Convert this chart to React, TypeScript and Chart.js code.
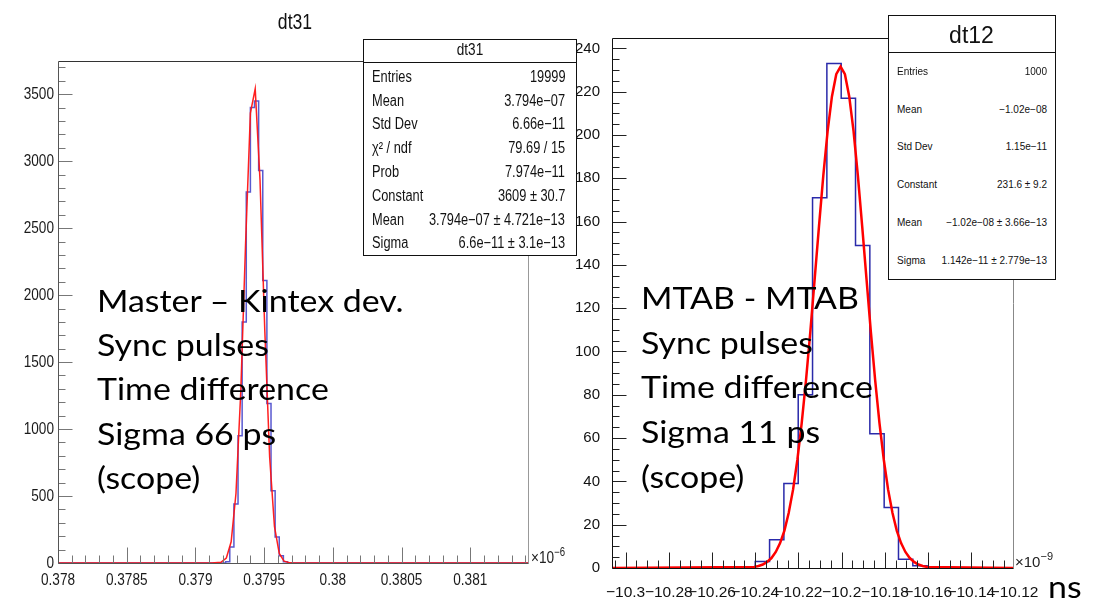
import React, { useEffect, useRef } from "react";
import { Chart, registerables } from "chart.js";

Chart.register(...registerables);

// ---------------- left panel: dt31 (x in units of 1e-6 s) ----------------
const dt31XRange = [0.378, 0.38142];
const dt31YMax = 3748;
const dt31BinStart = 0.37922;
const dt31BinWidth = 0.00003;
const dt31Counts = [10, 120, 440, 950, 1800, 2770, 3400, 3450, 2930, 2110, 1190, 540, 195, 55, 10];
const dt31FitX = [0.378, 0.37912, 0.379185, 0.379225, 0.37926, 0.379295, 0.37933, 0.379365, 0.3794, 0.379435, 0.37947, 0.379505, 0.37954, 0.379575, 0.37961, 0.379645, 0.37969, 0.37972, 0.38142];
const dt31FitY = [0, 0, 5, 37, 158, 519, 1281, 2388, 3359, 3540, 2860, 1731, 791, 273, 71, 14, 1, 0, 0];
const dt31XTicks = [0.378, 0.3785, 0.379, 0.3795, 0.38, 0.3805, 0.381];
const dt31XLabels = ["0.378", "0.3785", "0.379", "0.3795", "0.38", "0.3805", "0.381"];
const dt31YTicks = [0, 500, 1000, 1500, 2000, 2500, 3000, 3500];
const dt31YLabels = ["0", "500", "1000", "1500", "2000", "2500", "3000", "3500"];
const dt31StatNames = ["Entries", "Mean", "Std Dev", "χ² / ndf", "Prob", "Constant", "Mean", "Sigma"];
const dt31StatValues = ["19999", "3.794e−07", "6.66e−11", "79.69 / 15", "7.974e−11", "3609 ± 30.7", "3.794e−07 ± 4.721e−13", "6.6e−11 ± 3.1e−13"];
const dt31Note = ["Master – Kintex dev.", "Sync pulses", "Time difference", "Sigma 66 ps", "(scope)"];

// ---------------- right panel: dt12 (x in units of 1e-9 s) ----------------
const dt12XRange = [-10.3063, -10.1207];
const dt12YMax = 244.8;
const dt12BinStart = -10.24;
const dt12BinWidth = 0.00663;
const dt12Counts = [3, 13, 39, 80, 171, 233, 217, 149, 62, 28, 4, 1];
const dt12FitX = [-10.3063, -10.2405, -10.2385, -10.2365, -10.2345, -10.2325, -10.2305, -10.2285, -10.2265, -10.2245, -10.2225, -10.2205, -10.2185, -10.2165, -10.2145, -10.2125, -10.2105, -10.2085, -10.2065, -10.2045, -10.2025, -10.2005, -10.1985, -10.1965, -10.1945, -10.1925, -10.1905, -10.1885, -10.1865, -10.1845, -10.1825, -10.1805, -10.1785, -10.1765, -10.1745, -10.1725, -10.1705, -10.1685, -10.1665, -10.1645, -10.1625, -10.1605, -10.1207];
const dt12FitY = [0, 0.5, 0.9, 1.6, 2.8, 4.6, 7.4, 11.5, 17.3, 25.5, 36.2, 50.0, 66.9, 86.8, 109.2, 133.4, 157.8, 181.2, 201.8, 217.8, 228.1, 231.6, 228.1, 217.8, 201.8, 181.2, 157.8, 133.4, 109.2, 86.8, 66.9, 50.0, 36.2, 25.5, 17.3, 11.5, 7.4, 4.6, 2.8, 1.6, 0.9, 0.5, 0];
const dt12XTicks = [-10.3, -10.28, -10.26, -10.24, -10.22, -10.2, -10.18, -10.16, -10.14, -10.12];
const dt12XLabels = ["−10.3", "−10.28", "−10.26", "−10.24", "−10.22", "−10.2", "−10.18", "−10.16", "−10.14", "−10.12"];
const dt12YTicks = [0, 20, 40, 60, 80, 100, 120, 140, 160, 180, 200, 220, 240];
const dt12YLabels = ["0", "20", "40", "60", "80", "100", "120", "140", "160", "180", "200", "220", "240"];
const dt12StatNames = ["Entries", "Mean", "Std Dev", "Constant", "Mean", "Sigma"];
const dt12StatValues = ["1000", "−1.02e−08", "1.15e−11", "231.6 ± 9.2", "−1.02e−08 ± 3.66e−13", "1.142e−11 ± 2.779e−13"];
const dt12Note = ["MTAB - MTAB", "Sync pulses", "Time difference", "Sigma 11 ps", "(scope)"];

// ---------------- styling ----------------
const HELV = "'Liberation Sans', Arial, sans-serif";
const PPT = "Lato, 'Open Sans', sans-serif";
const NARROW_SX = 0.8; // Liberation Sans squeezed horizontally = Helvetica Narrow look
const PPT_SX = 1.13;

type FrameOpts = {
  axisColor: string;
  tickColor: string;
  topColor: string;
  rightColor: string;
  xMinor: number;
  xMajorEvery: number;
  yMinor: number;
  yMajorEvery: number;
  xMajorLen: number;
  xMinorLen: number;
  yMajorLen: number;
  yMinorLen: number;
  squeeze?: number;
  xTicks?: number[];
  xLabels?: string[];
  yTicks?: number[];
  yLabels?: string[];
  labelFont?: string;
  labelColor?: string;
  xBaselineOffset?: number;
  yLabelGap?: number;
};

function makeFramePlugin(o: FrameOpts) {
  return {
    id: "rootFrame",
    afterDraw(chart: any) {
      const { ctx, chartArea: a } = chart;
      const xs = chart.scales.x;
      const ys = chart.scales.y;
      const L = Math.round(a.left) + 0.5;
      const R = Math.round(a.right) + 0.5;
      const T = Math.round(a.top) + 0.5;
      const B = Math.round(a.bottom) + 0.5;
      ctx.save();
      ctx.lineWidth = 1;
      const seg = (x1: number, y1: number, x2: number, y2: number, c: string) => {
        ctx.strokeStyle = c;
        ctx.beginPath();
        ctx.moveTo(x1, y1);
        ctx.lineTo(x2, y2);
        ctx.stroke();
      };
      seg(L, T, R, T, o.topColor);
      seg(R, T, R, B, o.rightColor);
      const yLo = Math.ceil(ys.min / o.yMinor - 1e-6);
      const yHi = Math.floor(ys.max / o.yMinor + 1e-6);
      for (let i = yLo; i <= yHi; i++) {
        const py = Math.round(ys.getPixelForValue(i * o.yMinor)) + 0.5;
        const len = i % o.yMajorEvery === 0 ? o.yMajorLen : o.yMinorLen;
        seg(L, py, L + len, py, o.tickColor);
      }
      const xLo = Math.ceil(xs.min / o.xMinor - 1e-6);
      const xHi = Math.floor(xs.max / o.xMinor + 1e-6);
      for (let i = xLo; i <= xHi; i++) {
        const px = Math.round(xs.getPixelForValue(i * o.xMinor)) + 0.5;
        const len = i % o.xMajorEvery === 0 ? o.xMajorLen : o.xMinorLen;
        seg(px, B, px, B - len, o.tickColor);
      }
      seg(L, T, L, B, o.axisColor);
      seg(L, B, R, B, o.axisColor);

      if (o.squeeze && o.labelFont) {
        const sq = o.squeeze;
        ctx.font = o.labelFont;
        ctx.fillStyle = o.labelColor || "#222";
        ctx.textBaseline = "middle";
        ctx.textAlign = "right";
        (o.yTicks || []).forEach((v, i) => {
          const py = ys.getPixelForValue(v);
          ctx.save();
          ctx.translate(a.left - (o.yLabelGap || 4), py);
          ctx.scale(sq, 1);
          ctx.fillText((o.yLabels || [])[i], 0, 0);
          ctx.restore();
        });
        ctx.textBaseline = "alphabetic";
        ctx.textAlign = "center";
        (o.xTicks || []).forEach((v, i) => {
          const px = xs.getPixelForValue(v);
          ctx.save();
          ctx.translate(px, a.bottom + (o.xBaselineOffset || 20));
          ctx.scale(sq, 1);
          ctx.fillText((o.xLabels || [])[i], 0, 0);
          ctx.restore();
        });
      }
      ctx.restore();
    },
  };
}

type PanelSpec = {
  xRange: number[];
  yMax: number;
  binStart: number;
  binWidth: number;
  counts: number[];
  fitX: number[];
  fitY: number[];
  xTicks: number[];
  xLabels: string[];
  yTicks: number[];
  yLabels: string[];
  padTop: number;
  padRight: number;
  yAxisWidth: number;
  xAxisHeight: number;
  libLabels: boolean;
  font: string;
  xFontSize: number;
  yFontSize: number;
  xLabelPad: number;
  yLabelPad: number;
  labelColor: string;
  histColor: string;
  histWidth: number;
  fitColor: string;
  fitWidth: number;
  frame: FrameOpts;
};

function buildConfig(p: PanelSpec): any {
  const [xMin, xMax] = p.xRange;
  const hist: { x: number; y: number }[] = [
    { x: xMin, y: 0 },
    { x: p.binStart, y: 0 },
  ];
  p.counts.forEach((c, i) => hist.push({ x: p.binStart + i * p.binWidth, y: c }));
  hist.push({ x: p.binStart + p.counts.length * p.binWidth, y: 0 });
  hist.push({ x: xMax, y: 0 });
  const fit = p.fitX.map((x, i) => ({ x, y: p.fitY[i] }));
  return {
    type: "line",
    data: {
      datasets: [
        { label: "fit", data: fit, borderColor: p.fitColor, borderWidth: p.fitWidth, pointRadius: 0, tension: 0, fill: false },
        { label: "hist", data: hist, stepped: true, borderColor: p.histColor, borderWidth: p.histWidth, pointRadius: 0, fill: false },
      ],
    },
    options: {
      animation: false,
      responsive: false,
      devicePixelRatio: 1,
      events: [],
      layout: { padding: { top: p.padTop, right: p.padRight, left: 0, bottom: 0 } },
      plugins: { legend: { display: false }, tooltip: { enabled: false }, title: { display: false } },
      scales: {
        x: {
          type: "linear",
          bounds: "data",
          min: xMin,
          max: xMax,
          grid: { display: false },
          border: { display: false },
          ticks: {
            display: p.libLabels,
            autoSkip: false,
            maxRotation: 0,
            minRotation: 0,
            padding: p.xLabelPad,
            color: p.labelColor,
            font: { family: p.font, size: p.xFontSize },
            callback: (_v: number, i: number) => p.xLabels[i],
          },
          afterBuildTicks: (s: any) => {
            s.ticks = p.xTicks.map((v) => ({ value: v }));
          },
          afterFit: (s: any) => {
            s.height = p.xAxisHeight;
            s.paddingLeft = 0;
            s.paddingRight = 0;
          },
        },
        y: {
          type: "linear",
          bounds: "data",
          min: 0,
          max: p.yMax,
          grid: { display: false },
          border: { display: false },
          ticks: {
            display: p.libLabels,
            autoSkip: false,
            padding: p.yLabelPad,
            color: p.labelColor,
            font: { family: p.font, size: p.yFontSize },
            callback: (_v: number, i: number) => p.yLabels[i],
          },
          afterBuildTicks: (s: any) => {
            s.ticks = p.yTicks.map((v) => ({ value: v }));
          },
          afterFit: (s: any) => {
            s.width = p.yAxisWidth;
            s.paddingTop = 0;
            s.paddingBottom = 0;
          },
        },
      },
    },
    plugins: [makeFramePlugin(p.frame)],
  };
}

function ChartCanvas({ left, top, width, height, spec }: { left: number; top: number; width: number; height: number; spec: PanelSpec }) {
  const ref = useRef<HTMLCanvasElement>(null);
  useEffect(() => {
    const chart = new Chart(ref.current as HTMLCanvasElement, buildConfig(spec));
    return () => chart.destroy();
  }, []);
  return (
    <canvas
      ref={ref}
      width={width}
      height={height}
      style={{ position: "absolute", left, top, width, height, display: "block" }}
    />
  );
}

function CText({ x, yc, size, family, children, align = "left", color = "#111", sx = 1 }: any) {
  const top = yc - 0.4885 * size;
  const style: any = {
    position: "absolute",
    top,
    fontFamily: family,
    fontSize: size,
    lineHeight: `${size}px`,
    whiteSpace: "nowrap",
    color,
  };
  if (align === "left") {
    style.left = x;
    style.transformOrigin = "left center";
  } else if (align === "right") {
    style.right = 1094 - x;
    style.transformOrigin = "right center";
  } else {
    style.left = x - 200;
    style.width = 400;
    style.textAlign = "center";
    style.transformOrigin = "center center";
  }
  if (sx !== 1) style.transform = `scaleX(${sx})`;
  return <div style={style}>{children}</div>;
}

function StatsBox({ box, sepY, title, titleSize, titleYc, names, values, rowY0, rowStep, textL, textR, size, family, sx = 1 }: any) {
  const [x0, y0, x1, y1] = box;
  return (
    <>
      <div
        style={{
          position: "absolute",
          left: x0,
          top: y0,
          width: x1 - x0 + 1,
          height: y1 - y0 + 1,
          boxSizing: "border-box",
          border: "1px solid #111",
          background: "#fff",
        }}
      />
      <div style={{ position: "absolute", left: x0, top: sepY, width: x1 - x0 + 1, height: 1, background: "#111" }} />
      <CText x={(x0 + x1) / 2} yc={titleYc} size={titleSize} family={family} align="center" sx={sx}>
        {title}
      </CText>
      {names.map((n: string, i: number) => (
        <React.Fragment key={i}>
          <CText x={textL} yc={rowY0 + i * rowStep} size={size} family={family} sx={sx}>
            {n}
          </CText>
          <CText x={textR} yc={rowY0 + i * rowStep} size={size} family={family} align="right" sx={sx}>
            {values[i]}
          </CText>
        </React.Fragment>
      ))}
    </>
  );
}

function Note({ lines, x, base0, step }: { lines: string[]; x: number; base0: number; step: number }) {
  const F = 30;
  return (
    <>
      {lines.map((t, i) => (
        <div
          key={i}
          style={{
            position: "absolute",
            left: x,
            top: base0 + i * step - 0.887 * F,
            fontFamily: PPT,
            fontSize: F,
            lineHeight: `${F}px`,
            whiteSpace: "nowrap",
            color: "#000",
            transform: `scaleX(${PPT_SX})`,
            transformOrigin: "left center",
          }}
        >
          {t}
        </div>
      ))}
    </>
  );
}

const leftSpec: PanelSpec = {
  xRange: dt31XRange,
  yMax: dt31YMax,
  binStart: dt31BinStart,
  binWidth: dt31BinWidth,
  counts: dt31Counts,
  fitX: dt31FitX,
  fitY: dt31FitY,
  xTicks: dt31XTicks,
  xLabels: dt31XLabels,
  yTicks: dt31YTicks,
  yLabels: dt31YLabels,
  padTop: 61,
  padRight: 52,
  yAxisWidth: 58,
  xAxisHeight: 38,
  libLabels: false,
  font: HELV,
  xFontSize: 17,
  yFontSize: 17,
  xLabelPad: 6,
  yLabelPad: 4,
  labelColor: "#222",
  histColor: "rgba(60,60,200,0.85)",
  histWidth: 1.5,
  fitColor: "rgba(255,20,20,0.95)",
  fitWidth: 1.5,
  frame: {
    axisColor: "#555",
    tickColor: "#777",
    topColor: "#333",
    rightColor: "#999",
    xMinor: 0.0001,
    xMajorEvery: 5,
    yMinor: 100,
    yMajorEvery: 5,
    xMajorLen: 16,
    xMinorLen: 8,
    yMajorLen: 14,
    yMinorLen: 7,
    squeeze: NARROW_SX,
    xTicks: dt31XTicks,
    xLabels: dt31XLabels,
    yTicks: dt31YTicks,
    yLabels: dt31YLabels,
    labelFont: `17px ${HELV}`,
    labelColor: "#1a1a1a",
    xBaselineOffset: 21.5,
    yLabelGap: 4,
  },
};

const rightSpec: PanelSpec = {
  xRange: dt12XRange,
  yMax: dt12YMax,
  binStart: dt12BinStart,
  binWidth: dt12BinWidth,
  counts: dt12Counts,
  fitX: dt12FitX,
  fitY: dt12FitY,
  xTicks: dt12XTicks,
  xLabels: dt12XLabels,
  yTicks: dt12YTicks,
  yLabels: dt12YLabels,
  padTop: 38,
  padRight: 81,
  yAxisWidth: 42,
  xAxisHeight: 33,
  libLabels: true,
  font: HELV,
  xFontSize: 15.5,
  yFontSize: 15,
  xLabelPad: 7,
  yLabelPad: 4,
  labelColor: "#111",
  histColor: "#2a2aaa",
  histWidth: 1.5,
  fitColor: "#ff0000",
  fitWidth: 2.5,
  frame: {
    axisColor: "#111",
    tickColor: "#222",
    topColor: "#111",
    rightColor: "#888",
    xMinor: 0.005,
    xMajorEvery: 4,
    yMinor: 5,
    yMajorEvery: 4,
    xMajorLen: 16,
    xMinorLen: 8,
    yMajorLen: 14,
    yMinorLen: 7,
  },
};

export default function App() {
  return (
    <div style={{ position: "absolute", left: 0, top: 0, width: 1094, height: 601, background: "#fff", overflow: "hidden" }}>
      <ChartCanvas left={0} top={0} width={580} height={601} spec={leftSpec} />
      <ChartCanvas left={570} top={0} width={524} height={601} spec={rightSpec} />

      {/* left panel decorations */}
      <CText x={294.5} yc={21.7} size={22} family={HELV} align="center" sx={NARROW_SX}>
        dt31
      </CText>
      <div
        style={{
          position: "absolute",
          left: 531,
          top: 563 - 0.8465 * 17,
          fontFamily: HELV,
          fontSize: 17,
          lineHeight: "17px",
          color: "#222",
          whiteSpace: "nowrap",
          transform: `scaleX(${NARROW_SX})`,
          transformOrigin: "left center",
        }}
      >
        ×10<span style={{ position: "relative", top: -7, fontSize: 12 }}>−6</span>
      </div>
      <StatsBox
        box={[363, 39, 576, 255]}
        sepY={62}
        title="dt31"
        titleSize={17}
        titleYc={49}
        names={dt31StatNames}
        values={dt31StatValues}
        rowY0={76.7}
        rowStep={23.8}
        textL={372}
        textR={565}
        size={16}
        family={HELV}
        sx={NARROW_SX}
      />
      <Note lines={dt31Note} x={97} base0={311.5} step={44.3} />

      {/* right panel decorations */}
      <div style={{ position: "absolute", left: 1015, top: 566.5 - 0.8465 * 15, fontFamily: HELV, fontSize: 15, lineHeight: "15px", color: "#222", whiteSpace: "nowrap" }}>
        ×10<span style={{ position: "relative", top: -7, fontSize: 11 }}>−9</span>
      </div>
      <StatsBox
        box={[888, 15, 1055, 279]}
        sepY={52}
        title="dt12"
        titleSize={23}
        titleYc={35.5}
        names={dt12StatNames}
        values={dt12StatValues}
        rowY0={71.7}
        rowStep={37.8}
        textL={897}
        textR={1047}
        size={10}
        family={HELV}
      />
      <Note lines={dt12Note} x={641} base0={308.5} step={44.8} />
      <div
        style={{
          position: "absolute",
          left: 1048,
          top: 598 - 0.887 * 30,
          fontFamily: PPT,
          fontSize: 30,
          lineHeight: "30px",
          color: "#000",
          transform: `scaleX(${PPT_SX})`,
          transformOrigin: "left center",
        }}
      >
        ns
      </div>
    </div>
  );
}
